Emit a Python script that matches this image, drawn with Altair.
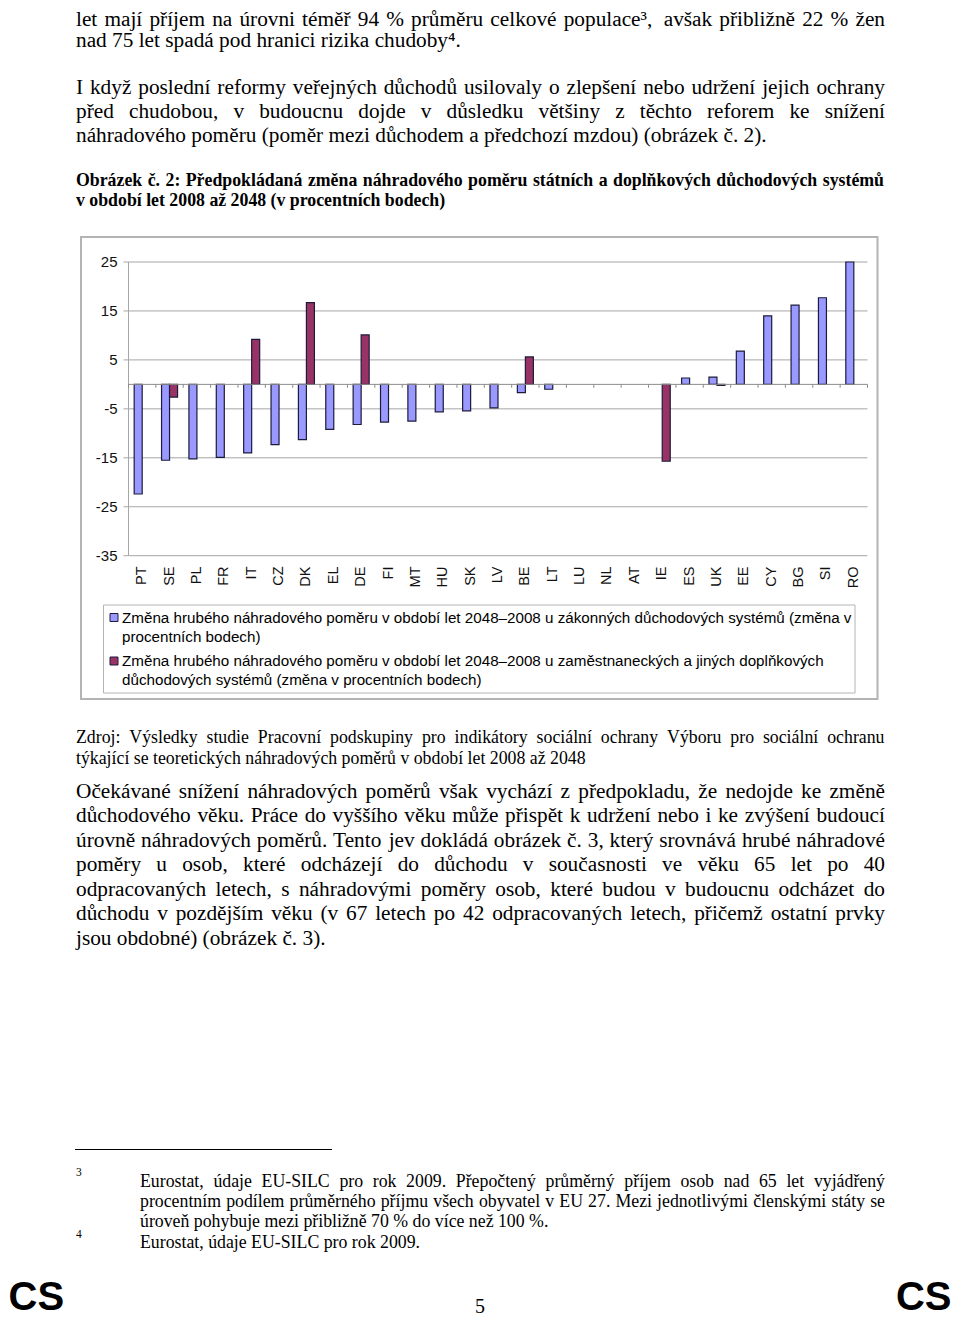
import unicodedata
import altair as alt
import pandas as pd

# ---------------- data ----------------
countries = ["PT", "SE", "PL", "FR", "IT", "CZ", "DK", "EL", "DE", "FI", "MT", "HU", "SK",
             "LV", "BE", "LT", "LU", "NL", "AT", "IE", "ES", "UK", "EE", "CY", "BG", "SI", "RO"]
statutory = [-22.4, -15.5, -15.2, -14.9, -14.0, -12.3, -11.3, -9.2, -8.2, -7.7, -7.5, -5.6, -5.4,
             -4.8, -1.7, -1.0, None, None, None, None, 1.3, 1.5, 6.8, 14.0, 16.2, 17.7, 25.0]
occupational = [None, -2.6, None, None, 9.2, None, 16.7, None, 10.1, None, None, None, None,
                None, 5.6, None, None, None, None, -15.7, None, -0.2, None, None, None, None, None]
y_ticks = [25, 15, 5, -5, -15, -25, -35]
y_tick_labels = ["25", "15", "5", "-5", "-15", "-25", "-35"]

series_keys = ["s", "o"]

body_top = [
    "let mají příjem na úrovni téměř 94 % průměru celkové populace³, avšak přibližně 22 % žen",
    "nad 75 let spadá pod hranici rizika chudoby⁴.",
    "I když poslední reformy veřejných důchodů usilovaly o zlepšení nebo udržení jejich ochrany",
    "před chudobou, v budoucnu dojde v důsledku většiny z těchto reforem ke snížení",
    "náhradového poměru (poměr mezi důchodem a předchozí mzdou) (obrázek č. 2).",
]
body_top_justified = [True, False, True, True, False]
caption_lines = [
    "Obrázek č. 2: Předpokládaná změna náhradového poměru státních a doplňkových důchodových systémů",
    "v období let 2008 až 2048 (v procentních bodech)",
]
caption_justified = [True, False]
legend_lines = [
    "Změna hrubého náhradového poměru v období let 2048–2008 u zákonných důchodových systémů (změna v",
    "procentních bodech)",
    "Změna hrubého náhradového poměru v období let 2048–2008 u zaměstnaneckých a jiných doplňkových",
    "důchodových systémů (změna v procentních bodech)",
]
source_lines = [
    "Zdroj: Výsledky studie Pracovní podskupiny pro indikátory sociální ochrany Výboru pro sociální ochranu",
    "týkající se teoretických náhradových poměrů v období let 2008 až 2048",
]
source_justified = [True, False]
body_bottom = [
    "Očekávané snížení náhradových poměrů však vychází z předpokladu, že nedojde ke změně",
    "důchodového věku. Práce do vyššího věku může přispět k udržení nebo i ke zvýšení budoucí",
    "úrovně náhradových poměrů. Tento jev dokládá obrázek č. 3, který srovnává hrubé náhradové",
    "poměry u osob, které odcházejí do důchodu v současnosti ve věku 65 let po 40",
    "odpracovaných letech, s náhradovými poměry osob, které budou v budoucnu odcházet do",
    "důchodu v pozdějším věku (v 67 letech po 42 odpracovaných letech, přičemž ostatní prvky",
    "jsou obdobné) (obrázek č. 3).",
]
body_bottom_justified = [True, True, True, True, True, True, False]
footnote_nums = ["3", "4"]
footnote_lines = [
    "Eurostat, údaje EU-SILC pro rok 2009. Přepočtený průměrný příjem osob nad 65 let vyjádřený",
    "procentním podílem průměrného příjmu všech obyvatel v EU 27. Mezi jednotlivými členskými státy se",
    "úroveň pohybuje mezi přibližně 70 % do více než 100 %.",
    "Eurostat, údaje EU-SILC pro rok 2009.",
]
footnote_justified = [True, True, False, False]
page_number = ["5"]
corner_label = "CS"

# ---------------- layout (page px; chart origin is page 8,8) ----------------
M = 8
def P(v):
    return v - M

BLUE = "#9999FF"
RED = "#993366"
EDGE = "#1c1c3a"
GRID = "#a6a6a6"
SERIF = "Liberation Serif"
SANS = "Liberation Sans"

# Times / Liberation Serif advance widths (1/1000 em) used to justify lines
_W = {" ": 250, "%": 833, "(": 333, ")": 333, ",": 250, "-": 333, ".": 250, ":": 278,
      "–": 500, "³": 300, "⁴": 300,
      "A": 722, "B": 667, "C": 667, "D": 722, "E": 611, "F": 556, "G": 722, "H": 722, "I": 333,
      "J": 389, "K": 722, "L": 611, "M": 889, "N": 722, "O": 722, "P": 556, "Q": 722, "R": 667,
      "S": 556, "T": 611, "U": 722, "V": 722, "W": 944, "X": 722, "Y": 722, "Z": 611,
      "a": 444, "b": 500, "c": 444, "d": 500, "e": 444, "f": 333, "g": 500, "h": 500, "i": 278,
      "j": 278, "k": 500, "l": 278, "m": 778, "n": 500, "o": 500, "p": 500, "q": 500, "r": 333,
      "s": 389, "t": 278, "u": 500, "v": 500, "w": 722, "x": 500, "y": 500, "z": 444}
# Times Bold advance widths
_WB = {" ": 250, "(": 333, ")": 333, ",": 250, ".": 250, ":": 333,
       "O": 778, "P": 611,
       "a": 500, "b": 556, "c": 444, "d": 556, "e": 444, "f": 333, "g": 500, "h": 556, "i": 278,
       "j": 333, "k": 556, "l": 278, "m": 833, "n": 556, "o": 500, "p": 556, "q": 556, "r": 444,
       "s": 389, "t": 333, "u": 556, "v": 500, "w": 722, "x": 500, "y": 500, "z": 444}


def word_width(w, size, table=_W):
    tot = 0
    for ch in w:
        if ch.isdigit():
            tot += 500
            continue
        base = unicodedata.normalize("NFD", ch)[0]
        tot += table.get(ch, table.get(base, _W.get(base, 500)))
    return tot * size / 1000.0


def line_words(lines, flags, ys, x0, x1, size, table=_W):
    texts, xs, yy, aligns = [], [], [], []
    for line, just, y in zip(lines, flags, ys):
        if not just:
            texts.append(line); xs.append(x0); yy.append(y); aligns.append("left")
            continue
        words = line.split(" ")
        widths = [word_width(w, size, table) for w in words]
        gap = (x1 - x0 - sum(widths)) / (len(words) - 1)
        x = x0
        for i, (w, wd) in enumerate(zip(words, widths)):
            if i == len(words) - 1:
                texts.append(w); xs.append(x1); aligns.append("right")
            else:
                texts.append(w); xs.append(x); aligns.append("left")
            yy.append(y)
            x += wd + gap
    return texts, xs, yy, aligns


plot_l, plot_r = 128.5, 867.5
y_top, y_bot = 262.0, 555.7

rows = []
for c, a, b in zip(countries, statutory, occupational):
    if a is not None:
        rows.append({"country": c, "series": "s", "value": a})
    if b is not None:
        rows.append({"country": c, "series": "o", "value": b})
bars_df = pd.DataFrame(rows)

xscale = alt.Scale(domain=countries, range=[P(plot_l), P(plot_r)],
                   paddingInner=0.415, paddingOuter=0.2075)
yscale = alt.Scale(domain=[-35, 25], range=[P(y_bot), P(y_top)], nice=False, zero=False)


def text_layer(texts, xs, ys, size, font=SERIF, weight="normal", align="left",
               color="black", baseline="middle", aligns=None):
    df = pd.DataFrame({"text": texts, "x": [P(v) for v in xs], "y": [P(v) for v in ys]})
    if aligns is None:
        return alt.Chart(df).mark_text(fontSize=size, font=font, fontWeight=weight, align=align,
                                       baseline=baseline, color=color).encode(
            x=alt.X("x:Q", scale=None), y=alt.Y("y:Q", scale=None), text="text:N")
    df["al"] = aligns
    out = []
    for al in ["left", "right"]:
        sub = df[df["al"] == al]
        if len(sub):
            out.append(alt.Chart(sub).mark_text(fontSize=size, font=font, fontWeight=weight,
                                                align=al, baseline=baseline, color=color).encode(
                x=alt.X("x:Q", scale=None), y=alt.Y("y:Q", scale=None), text="text:N"))
    return alt.layer(*out)


one = pd.DataFrame({"a": [0]})

frame = alt.Chart(one).mark_rect(fill="white", stroke="#b4b4b4", strokeWidth=2).encode(
    x=alt.value(P(81)), x2=alt.value(P(877.5)), y=alt.value(P(237)), y2=alt.value(P(699)))

tick_df = pd.DataFrame({"v": y_ticks, "lab": y_tick_labels})
grid = alt.Chart(tick_df).mark_rule(color=GRID, strokeWidth=1).encode(
    y=alt.Y("v:Q", scale=yscale, axis=None), x=alt.value(P(123.5)), x2=alt.value(P(plot_r)))

yaxis_line = alt.Chart(one).mark_rule(color=GRID, strokeWidth=1).encode(
    x=alt.value(P(plot_l)), y=alt.value(P(y_top)), y2=alt.value(P(y_bot)))

ylabels = alt.Chart(tick_df).mark_text(
    fontSize=15, font=SANS, align="right", baseline="middle", color="#111").encode(
    y=alt.Y("v:Q", scale=yscale, axis=None), x=alt.value(P(117.5)), text="lab:N")

zero_line = alt.Chart(one).mark_rule(color="#8c8c8c", strokeWidth=1).encode(
    y=alt.datum(0, scale=yscale), x=alt.value(P(plot_l)), x2=alt.value(P(plot_r)))

step = (plot_r - plot_l) / len(countries)
cdf = pd.DataFrame({"country": countries})
zero_ticks = alt.Chart(cdf).mark_rule(color="#8c8c8c", strokeWidth=1, xOffset=-step / 2).encode(
    x=alt.X("country:N", scale=xscale, axis=None),
    y=alt.datum(0, scale=yscale), y2=alt.datum(-0.7))
zero_tick_end = alt.Chart(pd.DataFrame({"country": [countries[-1]]})).mark_rule(
    color="#8c8c8c", strokeWidth=1, xOffset=step / 2).encode(
    x=alt.X("country:N", scale=xscale, axis=None),
    y=alt.datum(0, scale=yscale), y2=alt.datum(-0.7))

bars = alt.Chart(bars_df).mark_bar(stroke=EDGE, strokeWidth=1.2).encode(
    x=alt.X("country:N", scale=xscale, axis=None, sort=countries),
    xOffset=alt.XOffset("series:N", scale=alt.Scale(domain=series_keys, paddingInner=0, paddingOuter=0)),
    y=alt.Y("value:Q", scale=yscale, axis=None),
    color=alt.Color("series:N", scale=alt.Scale(domain=series_keys, range=[BLUE, RED]), legend=None),
)

xlabels = alt.Chart(cdf).mark_text(fontSize=14.5, font=SANS, angle=270, align="right",
                                   baseline="middle", color="#111").encode(
    x=alt.X("country:N", scale=xscale, axis=None), y=alt.value(P(566.5)), text="country:N")

legend_box = alt.Chart(one).mark_rect(fill="white", stroke="#b4b4b4", strokeWidth=1).encode(
    x=alt.value(P(103.5)), x2=alt.value(P(855)), y=alt.value(P(605)), y2=alt.value(P(693)))
sw_df = pd.DataFrame({"series": series_keys,
                      "x": [P(110)] * 2, "x2": [P(118)] * 2,
                      "y": [P(613.5), P(657)], "y2": [P(621.5), P(665)]})
legend_sw = alt.Chart(sw_df).mark_rect(stroke=EDGE, strokeWidth=1).encode(
    x=alt.X("x:Q", scale=None), x2="x2:Q", y=alt.Y("y:Q", scale=None), y2="y2:Q",
    fill=alt.Fill("series:N", scale=alt.Scale(domain=series_keys, range=[BLUE, RED]), legend=None))

fn_rule = alt.Chart(one).mark_rule(color="black", strokeWidth=1).encode(
    x=alt.value(P(75)), x2=alt.value(P(332)), y=alt.value(P(1149.5)))

layers = [frame, grid, yaxis_line, ylabels, bars, zero_line, zero_ticks, zero_tick_end, xlabels,
          legend_box, legend_sw, fn_rule]

BODY = 21.3
SMALL = 17.8
t, x, y, a = line_words(body_top, body_top_justified, [19.5, 41, 87.5, 111.5, 136], 76, 885, BODY)
layers.append(text_layer(t, x, y, BODY, aligns=a))
t, x, y, a = line_words(caption_lines, caption_justified, [180.5, 201], 76, 884, SMALL, table=_WB)
layers.append(text_layer(t, x, y, SMALL, weight="bold", aligns=a))
layers.append(text_layer(legend_lines, [122] * 4, [617.5, 636.5, 661, 680], 15.2, font=SANS))
t, x, y, a = line_words(source_lines, source_justified, [738, 759], 76, 884.5, SMALL)
layers.append(text_layer(t, x, y, SMALL, aligns=a))
t, x, y, a = line_words(body_bottom, body_bottom_justified,
                        [791.5, 816, 840.5, 865, 889.5, 914, 939], 76, 885, BODY)
layers.append(text_layer(t, x, y, BODY, aligns=a))
layers.append(text_layer(footnote_nums, [76] * 2, [1173, 1235], 11.5))
t, x, y, a = line_words(footnote_lines, footnote_justified, [1181.5, 1202, 1222, 1243], 140, 885, SMALL)
layers.append(text_layer(t, x, y, SMALL, aligns=a))
layers.append(text_layer(page_number, [480], [1313], 20, align="center", baseline="alphabetic"))
layers.append(text_layer([corner_label], [8.5], [1309.5], 40, font=SANS, weight="bold",
                         baseline="alphabetic"))
layers.append(text_layer([corner_label], [951.5], [1309.5], 40, font=SANS, weight="bold",
                         align="right", baseline="alphabetic"))

chart = alt.layer(*layers).properties(
    width=944, height=1311, autosize=alt.AutoSizeParams(type="none"), padding=0,
    background="white"
).configure_view(strokeWidth=0)

chart.save("out.html", embed_options={"renderer": "svg", "actions": False})
